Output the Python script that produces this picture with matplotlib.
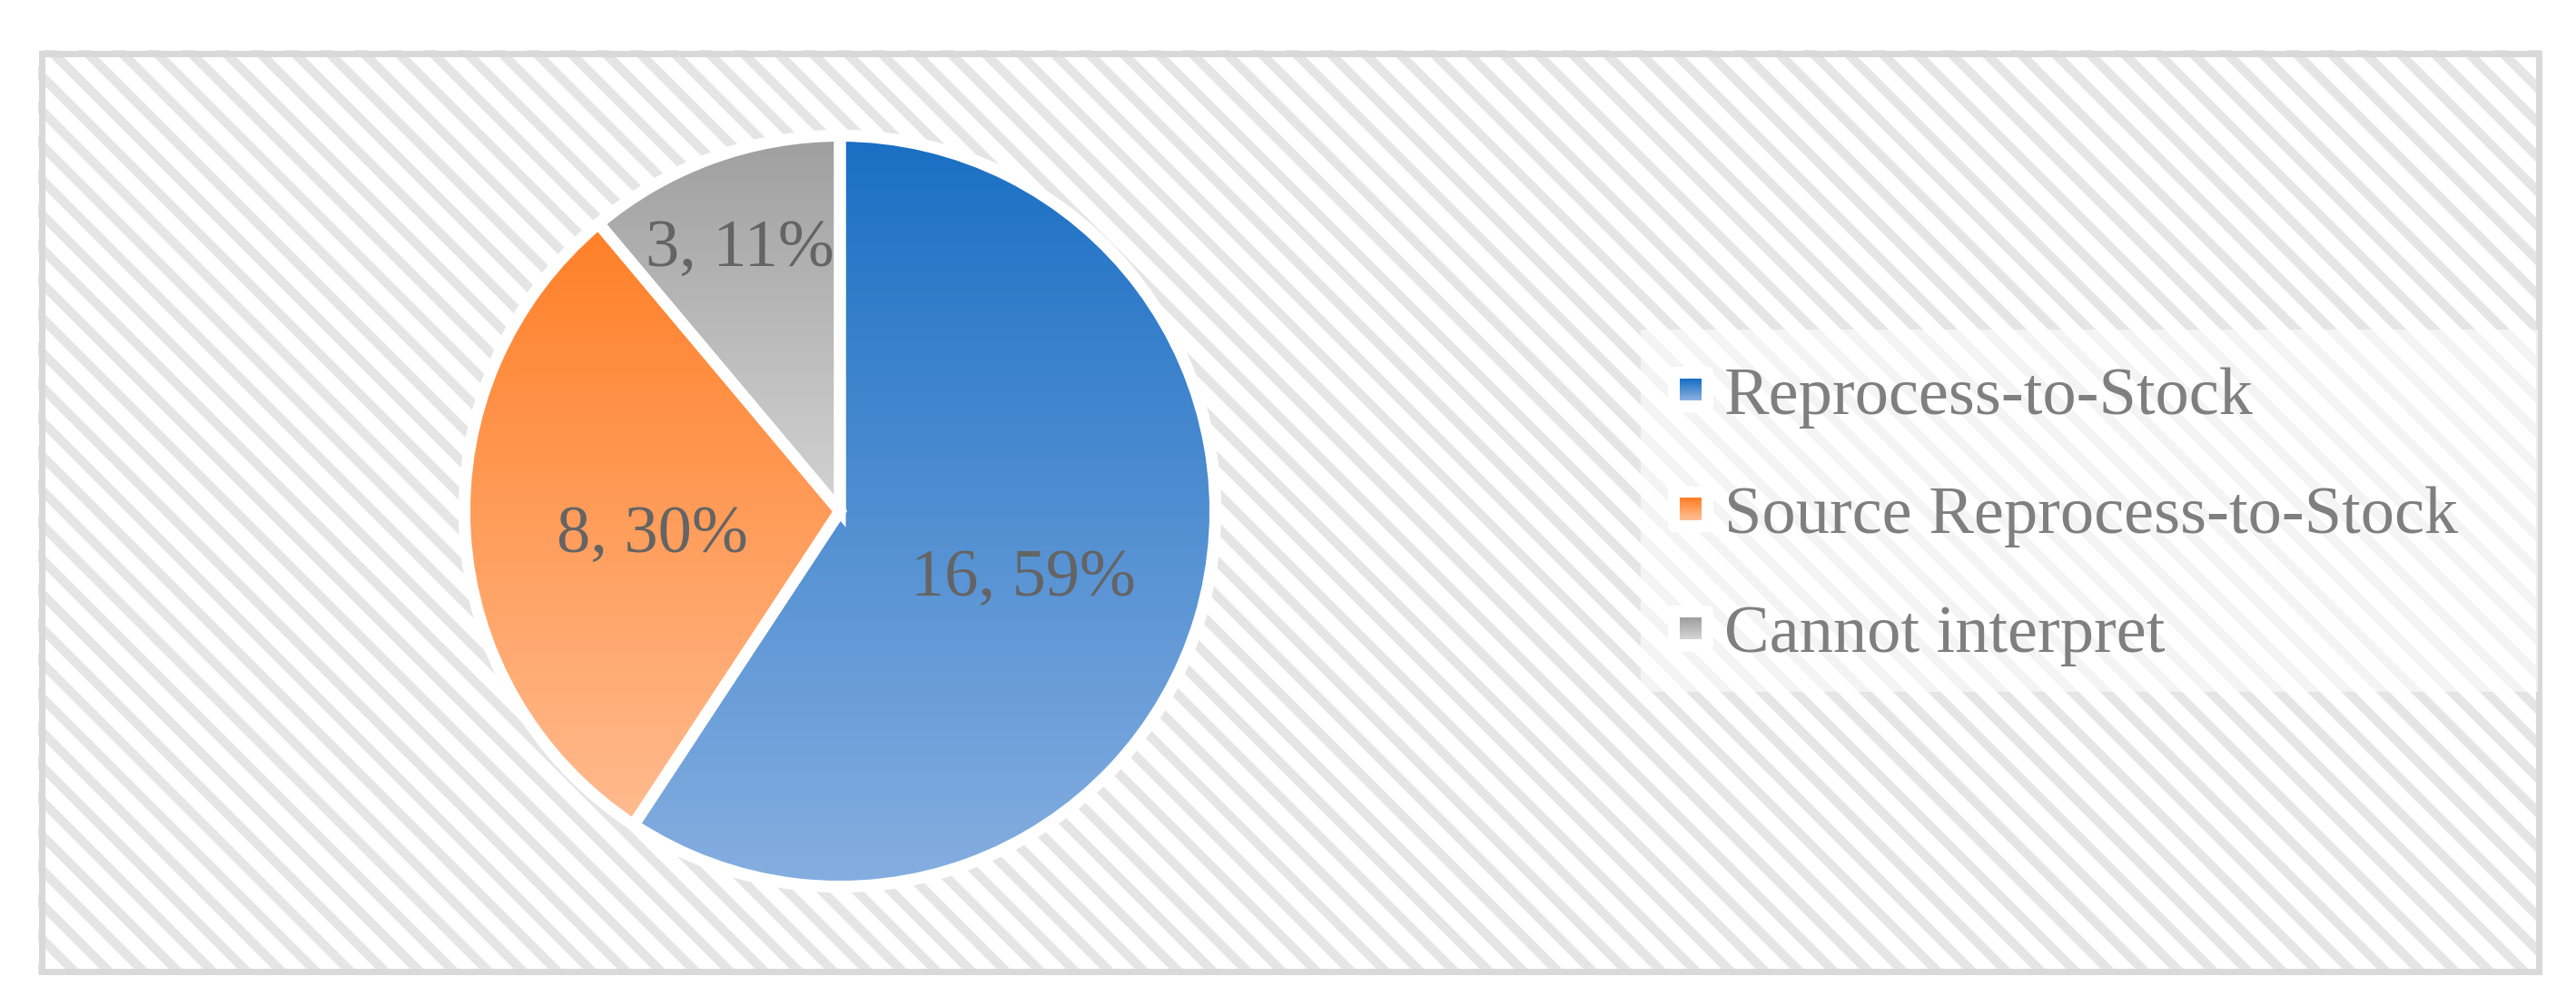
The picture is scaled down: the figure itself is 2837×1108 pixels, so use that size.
import numpy as np
import matplotlib
matplotlib.use("Agg")
import matplotlib.pyplot as plt
from matplotlib.patches import Rectangle, Circle, FancyBboxPatch
from matplotlib.colors import LinearSegmentedColormap
from matplotlib.legend_handler import HandlerBase

# data
categories = ["Reprocess-to-Stock", "Source Reprocess-to-Stock", "Cannot interpret"]
counts = [16, 8, 3]
grad_top = ["#1a6fc4", "#ff7f27", "#9f9f9f"]
grad_bottom = ["#86aee0", "#ffbb8f", "#d3d3d3"]
label_dist = [0.51, 0.50, 0.78]   # where each data label sits, fraction of radius

DPI = 114
W, H = 2837, 1108
px = 72 / DPI   # one pixel in points

plt.rcParams["font.family"] = ["Liberation Serif", "DejaVu Serif"]
plt.rcParams["hatch.linewidth"] = 6.5

fig = plt.figure(figsize=(W / DPI, H / DPI), dpi=DPI)
ax = fig.add_axes([0, 0, 1, 1])

# hatched chart area + border (pixel coords, y flipped)
bg = Rectangle((42, H - 1073), 2799 - 42, 1073 - 55, facecolor="white",
               edgecolor="#e5e5e5", hatch="\\", linewidth=0, zorder=0.5)
if hasattr(bg, "set_hatch_linewidth"):
    bg.set_hatch_linewidth(6.5)
ax.add_patch(bg)
ax.add_patch(Rectangle((45.5, H - 1069.5), 2750, 1011, fill=False,
                       edgecolor="#d9d9d9", linewidth=7 * px, zorder=0.6))

# pie
cx, cy = 925, H - 563
r_fill = 407
gap = 13
R = r_fill + gap / 2
ax.add_patch(Circle((cx, cy), r_fill + gap, facecolor="white", edgecolor="none", zorder=1.5))

total = sum(counts)
wedges, _ = ax.pie(counts, startangle=90, counterclock=False, center=(cx, cy), radius=R,
                   colors=["none"] * 3,
                   wedgeprops=dict(edgecolor="white", linewidth=gap * px, zorder=3))

for w, top, bot, n, d in zip(wedges, grad_top, grad_bottom, counts, label_dist):
    w.set_facecolor("none")
    t1, t2 = np.radians(w.theta1), np.radians(w.theta2)
    th = np.linspace(t1, t2, 200)
    xs = np.concatenate([[cx], cx + R * np.cos(th)])
    ys = np.concatenate([[cy], cy + R * np.sin(th)])
    cmap = LinearSegmentedColormap.from_list("g", [top, bot])
    grad = np.linspace(0, 1, 256).reshape(-1, 1)
    im = ax.imshow(grad, cmap=cmap, extent=(xs.min(), xs.max(), ys.min(), ys.max()),
                   origin="upper", aspect="auto", interpolation="bilinear", zorder=2)
    im.set_clip_path(w)
    mid = (t1 + t2) / 2
    ax.text(cx + d * R * np.cos(mid), cy + d * R * np.sin(mid) - 15,
            f"{n}, {round(100 * n / total)}%", ha="center", va="center",
            fontsize=47, color="#646464", zorder=4)

# legend area (Excel draws a light box behind it)
ax.add_patch(Rectangle((1807, H - 762), 2795 - 1807, 762 - 363, facecolor="white",
                       edgecolor="none", alpha=0.6, zorder=1))


class GradKey:
    def __init__(self, top, bottom):
        self.top = top
        self.bottom = bottom


class GradHandler(HandlerBase):
    def create_artists(self, legend, orig_handle, xdescent, ydescent, width, height,
                       fontsize, trans):
        arts = []
        box = FancyBboxPatch((-xdescent, -ydescent), width, height,
                             boxstyle="round,pad=0,rounding_size=4",
                             facecolor="white", edgecolor="none")
        arts.append(box)
        s = 15.2
        x0 = -xdescent + (width - s) / 2
        y0 = -ydescent + (height - s) / 2
        cmap = LinearSegmentedColormap.from_list("g", [orig_handle.top, orig_handle.bottom])
        n = 12
        for i in range(n):
            arts.append(Rectangle((x0, y0 + s - (i + 1) * s / n), s, s / n + 0.3,
                                  facecolor=cmap(i / (n - 1)), edgecolor="none"))
        for a in arts:
            a.set_transform(trans)
        return arts


keys = [GradKey(t, b) for t, b in zip(grad_top, grad_bottom)]
ax.legend(keys, categories, handler_map={GradKey: GradHandler()},
          loc="upper left", bbox_to_anchor=(1837, H - 404), bbox_transform=ax.transData,
          frameon=False, fontsize=47, labelcolor="#7f7f7f",
          handlelength=0.67, handleheight=0.67, handletextpad=0.16,
          labelspacing=0.86, borderpad=0, borderaxespad=0)

ax.set_xlim(0, W)
ax.set_ylim(0, H)
ax.axis("off")

fig.savefig("out.png", dpi=DPI, facecolor="white")
